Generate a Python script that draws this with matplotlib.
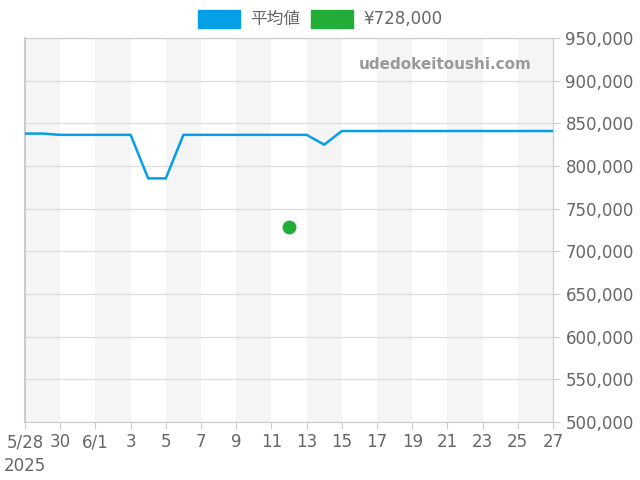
import matplotlib
matplotlib.use('Agg')
import matplotlib.pyplot as plt
import matplotlib.dates as mdates
from matplotlib.patches import Patch
import datetime as dt

plt.rcParams['font.family'] = ['DejaVu Sans', 'Noto Sans CJK JP']

# data
dates = ['2025-05-28', '2025-05-29', '2025-05-30', '2025-05-31', '2025-06-01', '2025-06-02',
         '2025-06-03', '2025-06-04', '2025-06-05', '2025-06-06', '2025-06-07', '2025-06-08',
         '2025-06-09', '2025-06-10', '2025-06-11', '2025-06-12', '2025-06-13', '2025-06-14',
         '2025-06-15', '2025-06-16', '2025-06-17', '2025-06-18', '2025-06-19', '2025-06-20',
         '2025-06-21', '2025-06-22', '2025-06-23', '2025-06-24', '2025-06-25', '2025-06-26',
         '2025-06-27']
avg = [838000, 838000, 836500, 836500, 836500, 836500,
       836500, 785500, 785500, 836500, 836500, 836500,
       836500, 836500, 836500, 836500, 836500, 825000,
       841000, 841000, 841000, 841000, 841000, 841000,
       841000, 841000, 841000, 841000, 841000, 841000,
       841000]
point_date = '2025-06-12'
point_value = 728000
legend_labels = ['平均値', '¥728,000']

x = [dt.datetime.strptime(d, '%Y-%m-%d') for d in dates]
px = dt.datetime.strptime(point_date, '%Y-%m-%d')

blue = '#049fe6'
green = '#21ad38'
txt = '#666666'

fig = plt.figure(figsize=(6.4, 4.8), dpi=100)
ax = fig.add_axes([25/640, 58/480, 528/640, 384/480])

# alternating bands every 2 days
for i in range(0, len(x) - 1, 4):
    ax.axvspan(x[i], x[i + 2], color='#f5f5f5', zorder=0, lw=0)

ax.plot(x, avg, color=blue, lw=1.8, zorder=3)
ax.plot([px], [point_value], 'o', color=green, ms=9, zorder=4)

ax.set_xlim(x[0], x[-1])
ax.set_ylim(500000, 950000)
ax.set_yticks(range(500000, 950001, 50000))
ax.set_yticklabels(['{:,}'.format(v) for v in range(500000, 950001, 50000)])
ax.yaxis.tick_right()
ax.grid(axis='y', color='#dddddd', lw=0.9, zorder=1)

ticks = x[::2]
labels = []
for t in ticks:
    if t.day == 1 or t == ticks[0]:
        labels.append('{}/{}'.format(t.month, t.day))
    else:
        labels.append(str(t.day))
ax.set_xticks(ticks)
ax.set_xticklabels(labels)
ax.tick_params(axis='both', colors='#cccccc', labelcolor=txt, labelsize=12, length=5)
ax.tick_params(axis='x', pad=3)
ax.tick_params(axis='y', pad=4)
for s in ax.spines.values():
    s.set_color('#cccccc')
ax.spines['left'].set_linewidth(1.5)

fig.text(4/640, (480 - 466)/480, '2025', color=txt, fontsize=12, va='center', ha='left')

ax.text(0.96, 0.93, 'udedokeitoushi.com', transform=ax.transAxes, ha='right', va='center',
        fontsize=11, fontweight='bold', color='#999999')

handles = [Patch(color=blue), Patch(color=green)]
fig.legend(handles, legend_labels, loc='center', bbox_to_anchor=(0.5, 1 - 19/480), ncol=2,
           frameon=False, labelcolor=txt, handlelength=2.5, handleheight=1.3,
           handletextpad=0.6, columnspacing=0.7,
           prop={'family': ['DejaVu Sans', 'Noto Sans CJK JP'], 'size': 12})

fig.savefig('out.png', dpi=100)
